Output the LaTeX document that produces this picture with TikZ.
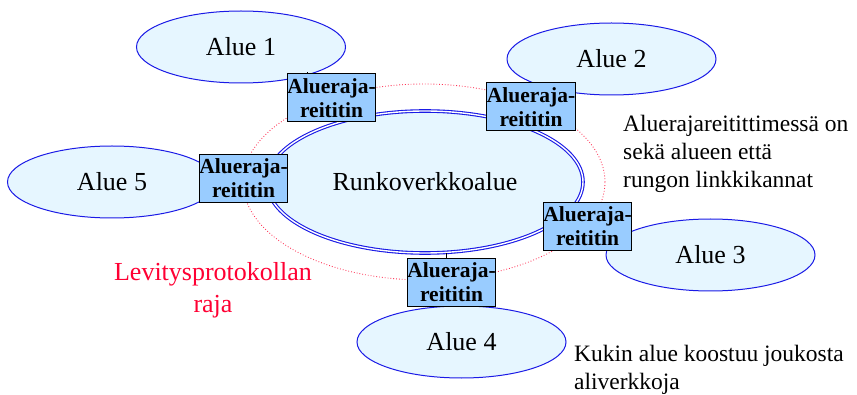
\documentclass[tikz,border=0pt]{standalone}
\usepackage{fontspec}
\setmainfont{Liberation Serif}
\usetikzlibrary{shapes.geometric}
\definecolor{areafill}{HTML}{E6F6FF}
\definecolor{areablue}{HTML}{1A1AE6}
\definecolor{boxfill}{HTML}{99CCFF}
\definecolor{borderred}{HTML}{FF3355}
\definecolor{textred}{HTML}{FF0033}
\tikzset{
  area/.style={ellipse, draw=areablue, line width=1pt, fill=areafill, inner sep=0pt,
    minimum width=209pt, minimum height=72pt, font=\fontsize{26}{28}\selectfont},
  core/.style={ellipse, draw=areablue, double=white, double distance=1.4pt, line width=1.1pt,
    fill=areafill, inner sep=0pt, minimum width=316pt, minimum height=142pt,
    font=\fontsize{26}{28}\selectfont},
  limit/.style={ellipse, draw=borderred, dotted, line width=0.85pt, inner sep=0pt,
    minimum width=362pt, minimum height=196pt},
  router/.style={rectangle, draw=black, line width=1pt, fill=boxfill, inner sep=0pt,
    minimum width=88pt, minimum height=48pt, align=center,
    font=\fontsize{21.5}{24}\selectfont\bfseries},
  note/.style={anchor=base west, inner sep=0pt, font=\fontsize{23.5}{28}\selectfont},
  rednote/.style={anchor=base, inner sep=0pt, text=textred, font=\fontsize{26}{30}\selectfont},
  tick/.style={draw=black, line width=0.5pt}
}
\begin{document}
\begin{tikzpicture}[x=1pt,y=-1pt]
\useasboundingbox (0,0) rectangle (857,395);
\node[limit] (lim) at (424,182) {};
\node[core] (core) at (425,182) {Runkoverkkoalue};
\node[area] (a1) at (241,47) {Alue 1};
\node[area] (a2) at (611.5,59) {Alue 2};
\node[area] (a5) at (112,182) {Alue 5};
\node[area] (a3) at (710.5,255) {Alue 3};
\node[area] (a4) at (461.5,342) {Alue 4};
\node[router] (r1) at (331.5,98) {Alueraja-\\reititin};
\node[router] (r2) at (531,107) {Alueraja-\\reititin};
\node[router] (r5) at (243.5,178.5) {Alueraja-\\reititin};
\node[router] (r3) at (587.5,226.5) {Alueraja-\\reititin};
\node[router] (r4) at (451.5,282.5) {Alueraja-\\reititin};
\coordinate (t4) at (446,253);
\draw[tick] (r4.north -| t4) -- (t4);
\coordinate (t1) at (307,72);
\draw[tick] (r1.north -| t1) -- (t1);
\node[note] (n1) at (623,132) {Aluerajareitittimessä on};
\node[note] (n2) at (623,160) {sekä alueen että};
\node[note] (n3) at (623,188) {rungon linkkikannat};
\node[note] (k1) at (574,362) {Kukin alue koostuu joukosta};
\node[note] (k2) at (574,389) {aliverkkoja};
\node[rednote] (l1) at (213,281) {Levitysprotokollan};
\node[rednote] (l2) at (213,313) {raja};
\end{tikzpicture}
\end{document}
